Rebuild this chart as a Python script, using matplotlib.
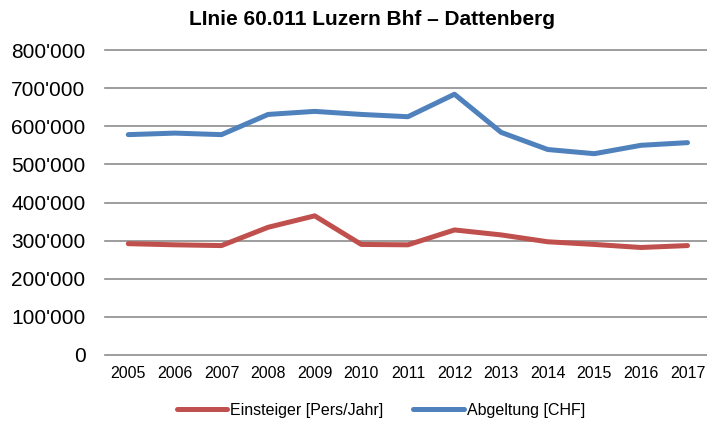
import numpy as np
import matplotlib
matplotlib.use("Agg")
import matplotlib.pyplot as plt
from matplotlib.ticker import FuncFormatter

years = ["2005", "2006", "2007", "2008", "2009", "2010", "2011",
         "2012", "2013", "2014", "2015", "2016", "2017"]
einsteiger = [292000, 289000, 287000, 335000, 365000, 290000, 289000,
              328000, 315000, 297000, 290000, 282000, 287000]
abgeltung = [578000, 582000, 578000, 631000, 639000, 631000, 625000,
             684000, 584000, 539000, 528000, 550000, 557000]
y_ticks = [0, 100000, 200000, 300000, 400000, 500000, 600000, 700000, 800000]

title = "LInie 60.011 Luzern Bhf \u2013 Dattenberg"
red = "#C0504D"
blue = "#4F81BD"


def swiss_fmt(v, pos):
    return f"{int(v):,}".replace(",", "'")


plt.rcParams['font.family'] = ['Liberation Sans', 'DejaVu Sans']

fig = plt.figure(figsize=(7.07, 4.24), dpi=100)
W, H = 707, 424
ax = fig.add_axes([105 / W, 1 - 355 / H, 602 / W, 305 / H])

x = np.arange(len(years))
ax.plot(x, einsteiger, color=red, lw=3.6, solid_capstyle='round',
        label="Einsteiger [Pers/Jahr]", zorder=3)
ax.plot(x, abgeltung, color=blue, lw=3.6, solid_capstyle='round',
        label="Abgeltung [CHF]", zorder=3)

ax.set_xlim(-0.5, -0.5 + 602 / 46.6)
ax.set_ylim(0, 800000)
ax.set_yticks(y_ticks)
ax.yaxis.set_major_formatter(FuncFormatter(swiss_fmt))
ax.set_xticks(x)
ax.set_xticklabels(years)
ax.tick_params(axis='y', length=0, pad=14, labelsize=15)
ax.tick_params(axis='x', length=0, pad=8, labelsize=11.5)
ax.grid(axis='y', color='#8c8c8c', lw=1.2, clip_on=False)
ax.set_axisbelow(True)
for s in ax.spines.values():
    s.set_visible(False)

fig.text(372 / W, 1 - 19.5 / H, title, ha='center', va='center',
         fontsize=15, fontweight='bold')

fig.legend(loc='center', bbox_to_anchor=(381 / W, 1 - 410 / H), ncol=2,
           frameon=False, fontsize=11.5, handlelength=3.15, handletextpad=0.2,
           columnspacing=1.85)

fig.savefig("out.png", dpi=100)
